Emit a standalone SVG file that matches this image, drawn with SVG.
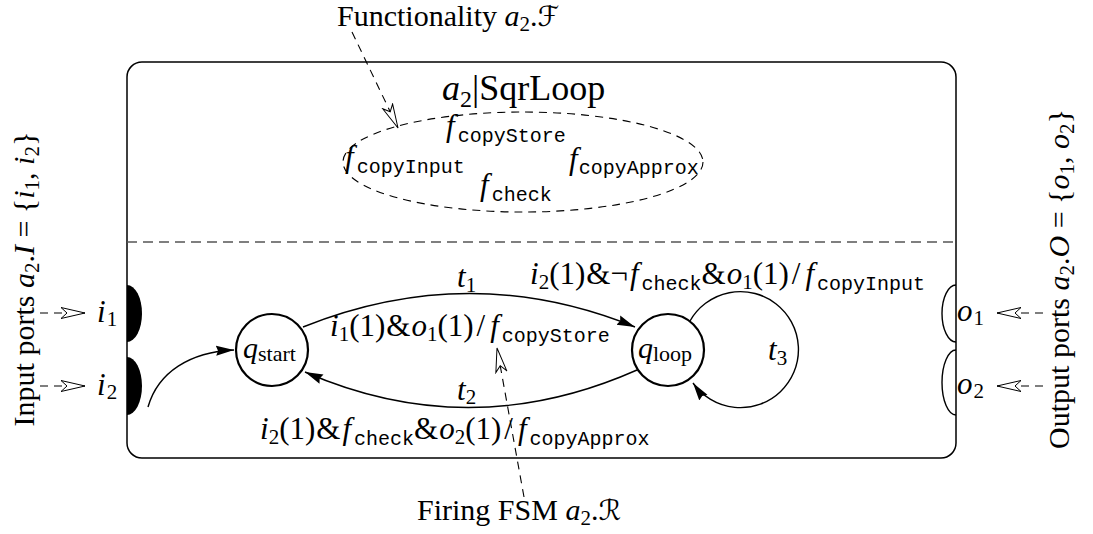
<svg xmlns="http://www.w3.org/2000/svg" width="1093" height="534" viewBox="0 0 1093 534">
<style>
.t{font-family:"Liberation Serif","DejaVu Serif",serif;font-size:30px;fill:#000}
.m{font-size:31px}
.i{font-style:italic}
.s{font-size:21px}
.tt{font-family:"Liberation Mono","DejaVu Sans Mono",monospace;font-size:20px}
.cal{font-family:"DejaVu Serif","DejaVu Sans",serif;font-style:italic;font-size:28px}
.ln{fill:none;stroke:#000;stroke-width:1.4}
.dash{fill:none;stroke:#000;stroke-width:1.1;stroke-dasharray:8 6}
.st{fill:#fff;stroke:#000;stroke-width:2.2}
</style>
<defs>
<marker id="ah" markerUnits="userSpaceOnUse" markerWidth="20" markerHeight="12" refX="18" refY="6" orient="auto"><path d="M0,1 L18,6 L0,11 L2,6 Z" fill="#000"/></marker>
<marker id="oh" markerUnits="userSpaceOnUse" markerWidth="28" markerHeight="14" refX="25" refY="7" orient="auto"><path d="M1,1.5 L25,7 L1,12.5 L7,7 Z" fill="#fff" stroke="#000" stroke-width="1"/></marker>
</defs>

<g id="actor">
<rect x="127" y="62" width="829" height="396" rx="15" fill="none" stroke="#000" stroke-width="1.5"/>
<line x1="127" y1="242" x2="956" y2="242" stroke="#555" stroke-width="1.6" stroke-dasharray="10 6"/>
<text class="t" x="442" y="100" style="font-size:36px"><tspan class="i">a</tspan><tspan dy="7" style="font-size:24px">2</tspan><tspan dy="-7">|SqrLoop</tspan></text>
</g>

<g id="functionality">
<ellipse cx="523" cy="162" rx="180" ry="50" class="dash"/>
<text class="t m" x="446" y="136"><tspan class="i">f</tspan><tspan class="tt" dx="3" dy="6">copyStore</tspan></text>
<text class="t m" x="345" y="167"><tspan class="i">f</tspan><tspan class="tt" dx="3" dy="6">copyInput</tspan></text>
<text class="t m" x="569" y="169"><tspan class="i">f</tspan><tspan class="tt" dx="1" dy="5">copyApprox</tspan></text>
<text class="t m" x="480" y="195"><tspan class="i">f</tspan><tspan class="tt" dx="3" dy="6">check</tspan></text>
</g>

<g id="in-ports">
<path d="M127,285 A15,28.5 0 0 1 127,342 Z" fill="#000"/>
<path d="M127,357 A15,29 0 0 1 127,415 Z" fill="#000"/>
<text class="t" x="97" y="322" style="font-size:31px"><tspan class="i">i</tspan><tspan class="s" dx="1" dy="4">1</tspan></text>
<text class="t" x="97" y="395" style="font-size:31px"><tspan class="i">i</tspan><tspan class="s" dx="1" dy="4">2</tspan></text>
</g>

<g id="out-ports">
<path d="M956,285 A14,28.5 0 0 0 956,342" class="ln" stroke-width="1.1"/>
<path d="M956,350 A14,32.5 0 0 0 956,415" class="ln" stroke-width="1.1"/>
<text class="t" x="957" y="321" style="font-size:31px"><tspan class="i">o</tspan><tspan class="s" dx="1" dy="4">1</tspan></text>
<text class="t" x="957" y="394" style="font-size:31px"><tspan class="i">o</tspan><tspan class="s" dx="1" dy="4">2</tspan></text>
</g>

<g id="q_start">
<circle cx="272" cy="350" r="36" class="st"/>
<text class="t" x="243" y="358"><tspan class="i">q</tspan><tspan dy="3" style="font-size:22px">start</tspan></text>
</g>

<g id="q_loop">
<circle cx="668" cy="350" r="36" class="st"/>
<text class="t" x="638" y="358"><tspan class="i">q</tspan><tspan dy="3" style="font-size:22px">loop</tspan></text>
</g>

<g id="annotations">
<text class="t" x="337" y="26">Functionality <tspan class="i">a</tspan><tspan class="s" dy="5">2</tspan><tspan dy="-5">.</tspan><tspan class="cal">ℱ</tspan></text>
<text class="t" x="417" y="520">Firing FSM <tspan class="i">a</tspan><tspan class="s" dy="5">2</tspan><tspan dy="-5">.</tspan><tspan class="cal">ℛ</tspan></text>
<text class="t" transform="translate(34,279) rotate(-90)" text-anchor="middle">Input ports <tspan class="i">a</tspan><tspan class="s" dy="5">2</tspan><tspan dy="-5">.</tspan><tspan class="i">I</tspan> = {<tspan class="i">i</tspan><tspan class="s" dy="5">1</tspan><tspan dy="-5">, </tspan><tspan class="i">i</tspan><tspan class="s" dy="5">2</tspan><tspan dy="-5">}</tspan></text>
<text class="t" transform="translate(1069,279) rotate(-90)" text-anchor="middle">Output ports <tspan class="i">a</tspan><tspan class="s" dy="5">2</tspan><tspan dy="-5">.</tspan><tspan class="i">O</tspan> = {<tspan class="i">o</tspan><tspan class="s" dy="5">1</tspan><tspan dy="-5">, </tspan><tspan class="i">o</tspan><tspan class="s" dy="5">2</tspan><tspan dy="-5">}</tspan></text>
</g>

<g id="connectors">
<path d="M148,407 C158,372 190,352 234,350" class="ln" marker-end="url(#ah)"/>
<path d="M303,327 Q470,260 635,327" class="ln" marker-end="url(#ah)"/>
<path d="M637,370 Q470,444 305,372" class="ln" marker-end="url(#ah)"/>
<path d="M690,321 A58,58 0 1 1 693,383" class="ln" marker-end="url(#ah)"/>
<line x1="352" y1="32" x2="398" y2="128" class="dash" marker-end="url(#oh)"/>
<line x1="524" y1="497" x2="497" y2="348" class="dash" marker-end="url(#oh)"/>
<line x1="40" y1="313" x2="85" y2="313" class="dash" stroke-dasharray="7 14" marker-end="url(#oh)"/>
<line x1="40" y1="386" x2="85" y2="386" class="dash" stroke-dasharray="7 14" marker-end="url(#oh)"/>
<line x1="1043" y1="313" x2="997" y2="313" class="dash" stroke-dasharray="7 14" marker-end="url(#oh)"/>
<line x1="1043" y1="386" x2="997" y2="386" class="dash" stroke-dasharray="7 14" marker-end="url(#oh)"/>
</g>

<g id="labels">
<text class="t m" x="457" y="287"><tspan class="i">t</tspan><tspan class="s" dy="5">1</tspan></text>
<text class="t m" x="457" y="400"><tspan class="i">t</tspan><tspan class="s" dy="4">2</tspan></text>
<text class="t m" x="768" y="360"><tspan class="i">t</tspan><tspan class="s" dy="5">3</tspan></text>
<text class="t m" x="330" y="336"><tspan class="i">i</tspan><tspan class="s" dy="5">1</tspan><tspan dy="-5">(1)</tspan><tspan dx="1">&amp;</tspan><tspan class="i" dx="1">o</tspan><tspan class="s" dy="5">1</tspan><tspan dy="-5">(1)</tspan><tspan dx="3">/</tspan><tspan class="i" dx="5">f</tspan><tspan class="tt" dx="3" dy="6">copyStore</tspan></text>
<text class="t m" x="530" y="284"><tspan class="i">i</tspan><tspan class="s" dy="5">2</tspan><tspan dy="-5">(1)</tspan><tspan dx="1">&amp;¬</tspan><tspan class="i" dx="2">f</tspan><tspan class="tt" dx="3" dy="6">check</tspan><tspan dy="-6">&amp;</tspan><tspan class="i" dx="1">o</tspan><tspan class="s" dy="5">1</tspan><tspan dy="-5">(1)</tspan><tspan dx="3">/</tspan><tspan class="i" dx="5">f</tspan><tspan class="tt" dx="3" dy="6">copyInput</tspan></text>
<text class="t m" x="260" y="439"><tspan class="i">i</tspan><tspan class="s" dy="5">2</tspan><tspan dy="-5">(1)</tspan><tspan dx="1">&amp;</tspan><tspan class="i" dx="2">f</tspan><tspan class="tt" dx="3" dy="6">check</tspan><tspan dy="-6">&amp;</tspan><tspan class="i" dx="1">o</tspan><tspan class="s" dy="5">2</tspan><tspan dy="-5">(1)</tspan><tspan dx="3">/</tspan><tspan class="i" dx="5">f</tspan><tspan class="tt" dx="3" dy="6">copyApprox</tspan></text>
</g>
</svg>
